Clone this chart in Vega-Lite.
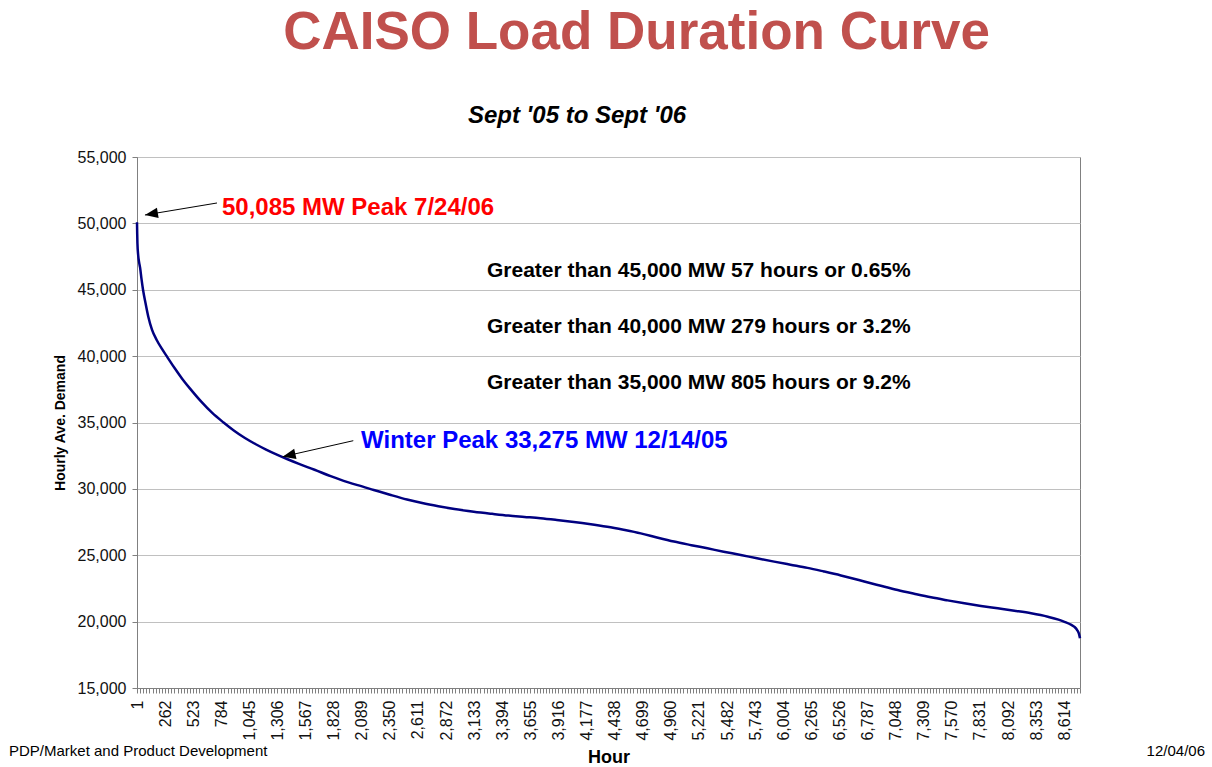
{
  "$schema": "https://vega.github.io/schema/vega-lite/v6.json",
  "width": 943,
  "height": 531,
  "autosize": {"type": "none"},
  "padding": {"left": 137, "top": 157, "right": 132, "bottom": 79},
  "background": "#FFFFFF",
  "title": {"text": "CAISO Load Duration Curve", "anchor": "middle", "frame": "group", "font": "Liberation Sans", "fontSize": 53, "fontWeight": "bold", "color": "#C0504D", "dx": 28, "offset": 44},
  "config": {
    "font": "Liberation Sans",
    "view": {"stroke": "#808080", "strokeWidth": 1},
    "axis": {"labelFont": "Liberation Sans", "titleFont": "Liberation Sans", "labelColor": "#111111", "titleColor": "#000000", "domainColor": "#808080", "tickColor": "#808080", "gridColor": "#C0C0C0"}
  },
  "encoding": {
    "x": {"field": "hour", "type": "quantitative", "scale": {"domain": [1, 8760], "nice": false, "zero": false},
      "axis": {"title": "Hour", "titleFontSize": 18, "titleFontWeight": "bold", "titlePadding": 8,
        "labelExpr": "(datum.value - 1) % 261 === 0 ? format(datum.value, ',') : ''",
        "labelAngle": 270, "labelFontSize": 16, "labelPadding": 7, "labelOverlap": false, "labelFlush": false,
        "tickSize": 5, "grid": false,
        "values": [1,30,59,88,117,146,175,204,233,262,291,320,349,378,407,436,465,494,523,552,581,610,639,668,697,726,755,784,813,842,871,900,929,958,987,1016,1045,1074,1103,1132,1161,1190,1219,1248,1277,1306,1335,1364,1393,1422,1451,1480,1509,1538,1567,1596,1625,1654,1683,1712,1741,1770,1799,1828,1857,1886,1915,1944,1973,2002,2031,2060,2089,2118,2147,2176,2205,2234,2263,2292,2321,2350,2379,2408,2437,2466,2495,2524,2553,2582,2611,2640,2669,2698,2727,2756,2785,2814,2843,2872,2901,2930,2959,2988,3017,3046,3075,3104,3133,3162,3191,3220,3249,3278,3307,3336,3365,3394,3423,3452,3481,3510,3539,3568,3597,3626,3655,3684,3713,3742,3771,3800,3829,3858,3887,3916,3945,3974,4003,4032,4061,4090,4119,4148,4177,4206,4235,4264,4293,4322,4351,4380,4409,4438,4467,4496,4525,4554,4583,4612,4641,4670,4699,4728,4757,4786,4815,4844,4873,4902,4931,4960,4989,5018,5047,5076,5105,5134,5163,5192,5221,5250,5279,5308,5337,5366,5395,5424,5453,5482,5511,5540,5569,5598,5627,5656,5685,5714,5743,5772,5801,5830,5859,5888,5917,5946,5975,6004,6033,6062,6091,6120,6149,6178,6207,6236,6265,6294,6323,6352,6381,6410,6439,6468,6497,6526,6555,6584,6613,6642,6671,6700,6729,6758,6787,6816,6845,6874,6903,6932,6961,6990,7019,7048,7077,7106,7135,7164,7193,7222,7251,7280,7309,7338,7367,7396,7425,7454,7483,7512,7541,7570,7599,7628,7657,7686,7715,7744,7773,7802,7831,7860,7889,7918,7947,7976,8005,8034,8063,8092,8121,8150,8179,8208,8237,8266,8295,8324,8353,8382,8411,8440,8469,8498,8527,8556,8585,8614,8643,8672,8701,8730,8759]
      }},
    "y": {"field": "mw", "type": "quantitative", "scale": {"domain": [15000, 55000], "nice": false, "zero": false},
      "axis": {"title": "Hourly Ave. Demand", "titleFontSize": 14, "titleFontWeight": "bold", "titlePadding": 10,
        "labelExpr": "format(datum.value, ',')",
        "values": [15000, 20000, 25000, 30000, 35000, 40000, 45000, 50000, 55000],
        "labelFontSize": 16, "labelPadding": 6, "tickSize": 5, "grid": true}}
  },
  "layer": [
    {
      "data": {"values": [
        {"hour": 1, "mw": 50085}, {"hour": 3, "mw": 49200}, {"hour": 5, "mw": 48500}, {"hour": 12, "mw": 47600},
        {"hour": 20, "mw": 47100}, {"hour": 29, "mw": 46700}, {"hour": 43, "mw": 45800}, {"hour": 57, "mw": 45000},
        {"hour": 80, "mw": 44000}, {"hour": 106, "mw": 42970}, {"hour": 140, "mw": 42000}, {"hour": 184, "mw": 41215},
        {"hour": 230, "mw": 40580}, {"hour": 277, "mw": 40000}, {"hour": 350, "mw": 39100}, {"hour": 420, "mw": 38300},
        {"hour": 494, "mw": 37550}, {"hour": 600, "mw": 36550}, {"hour": 700, "mw": 35720}, {"hour": 805, "mw": 35000},
        {"hour": 900, "mw": 34400}, {"hour": 1000, "mw": 33850}, {"hour": 1100, "mw": 33380}, {"hour": 1200, "mw": 32960},
        {"hour": 1300, "mw": 32580}, {"hour": 1400, "mw": 32230}, {"hour": 1500, "mw": 31900}, {"hour": 1650, "mw": 31440},
        {"hour": 1800, "mw": 30960}, {"hour": 1889, "mw": 30700}, {"hour": 2050, "mw": 30280}, {"hour": 2200, "mw": 29920},
        {"hour": 2350, "mw": 29560}, {"hour": 2509, "mw": 29200}, {"hour": 2650, "mw": 28930}, {"hour": 2800, "mw": 28690},
        {"hour": 2950, "mw": 28480}, {"hour": 3129, "mw": 28280}, {"hour": 3300, "mw": 28120}, {"hour": 3450, "mw": 27990},
        {"hour": 3600, "mw": 27890}, {"hour": 3749, "mw": 27790}, {"hour": 3900, "mw": 27660}, {"hour": 4059, "mw": 27510},
        {"hour": 4200, "mw": 27360}, {"hour": 4369, "mw": 27150}, {"hour": 4520, "mw": 26920}, {"hour": 4680, "mw": 26650},
        {"hour": 4830, "mw": 26340}, {"hour": 4989, "mw": 26030}, {"hour": 5150, "mw": 25760}, {"hour": 5299, "mw": 25520},
        {"hour": 5450, "mw": 25270}, {"hour": 5609, "mw": 25020}, {"hour": 5760, "mw": 24770}, {"hour": 5919, "mw": 24520},
        {"hour": 6070, "mw": 24290}, {"hour": 6229, "mw": 24050}, {"hour": 6380, "mw": 23780}, {"hour": 6539, "mw": 23480},
        {"hour": 6650, "mw": 23250}, {"hour": 6756, "mw": 23020}, {"hour": 6900, "mw": 22720}, {"hour": 7066, "mw": 22380},
        {"hour": 7220, "mw": 22100}, {"hour": 7376, "mw": 21830}, {"hour": 7530, "mw": 21600}, {"hour": 7686, "mw": 21380},
        {"hour": 7840, "mw": 21180}, {"hour": 7996, "mw": 21000}, {"hour": 8150, "mw": 20820}, {"hour": 8306, "mw": 20625},
        {"hour": 8461, "mw": 20370}, {"hour": 8560, "mw": 20150}, {"hour": 8616, "mw": 19980}, {"hour": 8680, "mw": 19750},
        {"hour": 8709, "mw": 19600}, {"hour": 8735, "mw": 19350}, {"hour": 8750, "mw": 19100}, {"hour": 8760, "mw": 18750}
      ]},
      "mark": {"type": "line", "color": "#000080", "strokeWidth": 2.5, "interpolate": "monotone"}
    },
    {
      "data": {"values": [{"hour": 744, "mw": 51535, "hour2": 75, "mw2": 50631}]},
      "mark": {"type": "rule", "color": "#000000", "strokeWidth": 1},
      "encoding": {"x2": {"field": "hour2"}, "y2": {"field": "mw2"}}
    },
    {
      "data": {"values": [{"hour": 75, "mw": 50631}]},
      "mark": {"type": "point", "shape": "M0,0L1,-0.4L1,0.4Z", "size": 676, "filled": true, "color": "#000000", "opacity": 1, "angle": -9.5}
    },
    {
      "data": {"values": [{"hour": 2010, "mw": 33629, "hour2": 1354, "mw2": 32424}]},
      "mark": {"type": "rule", "color": "#000000", "strokeWidth": 1},
      "encoding": {"x2": {"field": "hour2"}, "y2": {"field": "mw2"}}
    },
    {
      "data": {"values": [{"hour": 1354, "mw": 32424}]},
      "mark": {"type": "point", "shape": "M0,0L1,-0.4L1,0.4Z", "size": 676, "filled": true, "color": "#000000", "opacity": 1, "angle": -12.8}
    },
    {
      "data": {"values": [{"hour": 790, "mw": 51158, "label": "50,085 MW Peak 7/24/06"}]},
      "mark": {"type": "text", "align": "left", "baseline": "middle", "font": "Liberation Sans", "fontSize": 24, "fontWeight": "bold", "color": "#FF0000"},
      "encoding": {"text": {"field": "label"}}
    },
    {
      "data": {"values": [{"hour": 2082, "mw": 33607, "label": "Winter Peak 33,275 MW 12/14/05"}]},
      "mark": {"type": "text", "align": "left", "baseline": "middle", "font": "Liberation Sans", "fontSize": 24, "fontWeight": "bold", "color": "#0000FF"},
      "encoding": {"text": {"field": "label"}}
    },
    {
      "data": {"values": [
        {"hour": 3252, "mw": 46412, "label": "Greater than 45,000 MW 57 hours or 0.65%"},
        {"hour": 3252, "mw": 42194, "label": "Greater than 40,000 MW 279 hours or 3.2%"},
        {"hour": 3252, "mw": 37975, "label": "Greater than 35,000 MW 805 hours or 9.2%"}
      ]},
      "mark": {"type": "text", "align": "left", "baseline": "middle", "font": "Liberation Sans", "fontSize": 21, "fontWeight": "bold", "color": "#000000"},
      "encoding": {"text": {"field": "label"}}
    },
    {
      "data": {"values": [{"hour": 4088, "mw": 58089, "label": "Sept '05 to Sept '06"}]},
      "mark": {"type": "text", "align": "center", "baseline": "middle", "font": "Liberation Sans", "fontSize": 24, "fontWeight": "bold", "fontStyle": "italic", "color": "#000000"},
      "encoding": {"text": {"field": "label"}}
    },
    {
      "data": {"values": [{"hour": -1188, "mw": 10254, "label": "PDP/Market and Product Development"}]},
      "mark": {"type": "text", "align": "left", "baseline": "middle", "font": "Liberation Sans", "fontSize": 15, "color": "#000000"},
      "encoding": {"text": {"field": "label"}}
    },
    {
      "data": {"values": [{"hour": 9921, "mw": 10254, "label": "12/04/06"}]},
      "mark": {"type": "text", "align": "right", "baseline": "middle", "font": "Liberation Sans", "fontSize": 15, "color": "#000000"},
      "encoding": {"text": {"field": "label"}}
    }
  ]
}
